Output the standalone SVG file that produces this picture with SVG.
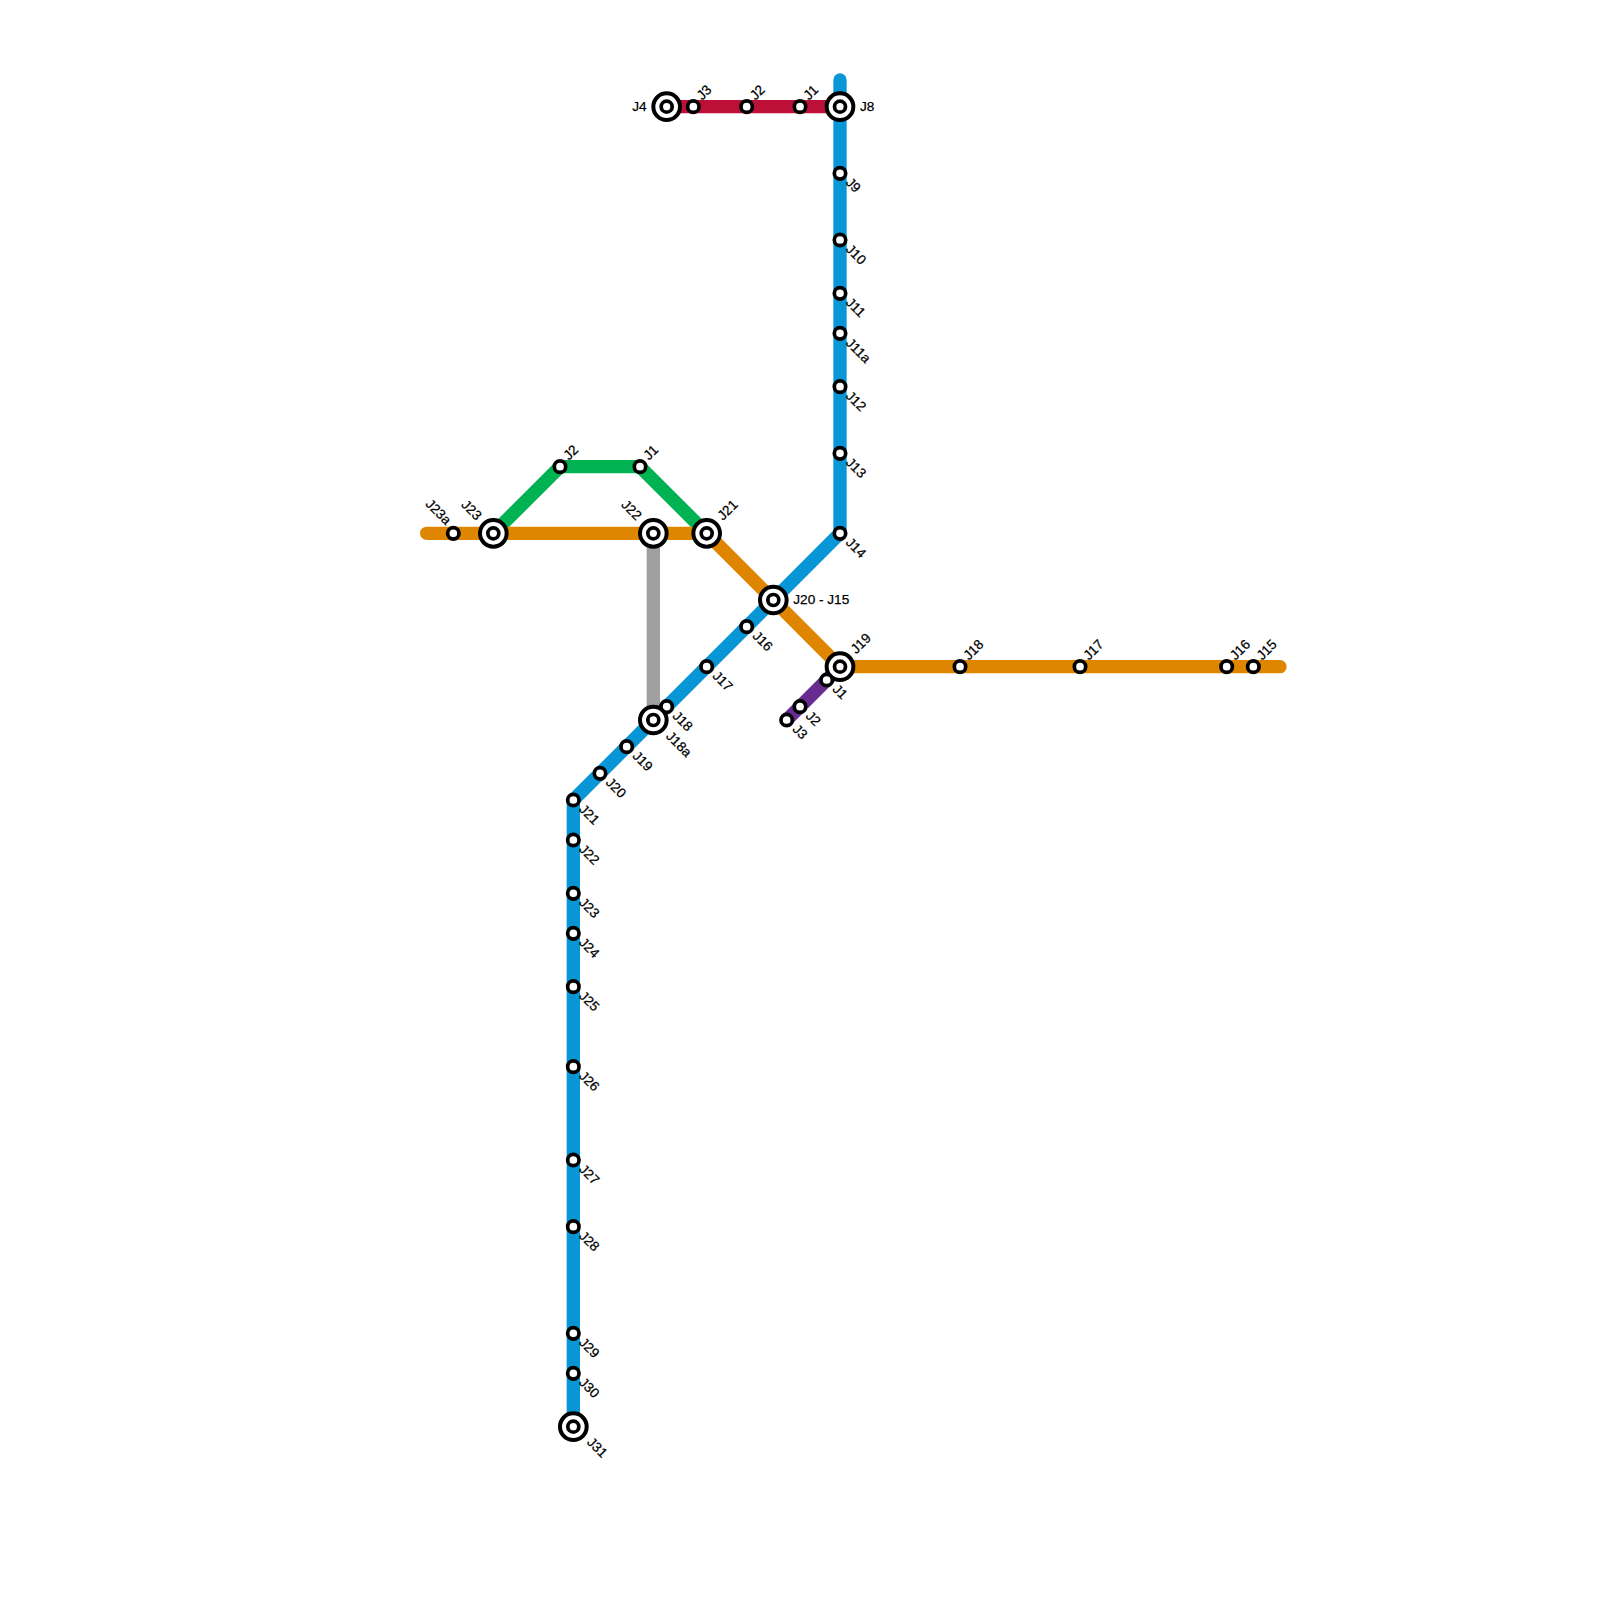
<svg xmlns="http://www.w3.org/2000/svg" width="1600" height="1600" viewBox="0 0 1600 1600">
<style>
.l{fill:none;stroke-width:13.33;stroke-linecap:round;stroke-linejoin:round}
.s{fill:#fff;stroke:#000;stroke-width:4}
.d{fill:#fff;stroke:#000;stroke-width:3.7}
.t{font-family:"Liberation Sans",Arial,sans-serif;font-size:13.6px;fill:#000;stroke:#000;stroke-width:.25}
.e{text-anchor:end}
</style>
<rect width="1600" height="1600" fill="#fff"/>
<defs>
<g id="sm"><circle class="d" r="5.7"/></g>
<g id="lg"><circle class="s" r="13.33"/><circle class="d" r="5.5"/></g>
</defs>
<g id="connectors">
<path class="l" stroke="#a0a0a0" d="M653.33 533.33V720"/>
<path class="l" stroke="#bd1038" d="M666.67 106.67H840"/>
<path class="l" stroke="#00b251" d="M493.33 533.33L560 466.67H640L706.67 533.33"/>
<path class="l" stroke="#662c90" d="M840 666.67L786.67 720"/>
<path class="l" stroke="#0896d7" d="M840 80V533.33L573.33 800V1426.67"/>
<path class="l" stroke="#df8600" d="M426.67 533.33H706.67L840 666.67H1280"/>
</g>
<g id="red-J4"><use href="#lg" x="666.67" y="106.67"/><text class="t e" x="646.5" y="111">J4</text></g>
<g id="red-J3"><use href="#sm" x="693.33" y="106.67"/><text class="t" transform="translate(702.2 100.7) rotate(-45)">J3</text></g>
<g id="red-J2"><use href="#sm" x="746.67" y="106.67"/><text class="t" transform="translate(755.5 100.7) rotate(-45)">J2</text></g>
<g id="red-J1"><use href="#sm" x="800" y="106.67"/><text class="t" transform="translate(808.9 100.7) rotate(-45)">J1</text></g>
<g id="blue-J8"><use href="#lg" x="840" y="106.67"/><text class="t" x="860" y="111">J8</text></g>
<g id="blue-J9"><use href="#sm" x="840" y="173.33"/><text class="t" transform="translate(845 183.3) rotate(45)">J9</text></g>
<g id="blue-J10"><use href="#sm" x="840" y="240"/><text class="t" transform="translate(845 250) rotate(45)">J10</text></g>
<g id="blue-J11"><use href="#sm" x="840" y="293.33"/><text class="t" transform="translate(845 303.3) rotate(45)">J11</text></g>
<g id="blue-J11a"><use href="#sm" x="840" y="333.33"/><text class="t" transform="translate(845 343.8) rotate(45)">J11a</text></g>
<g id="blue-J12"><use href="#sm" x="840" y="386.67"/><text class="t" transform="translate(845 396.7) rotate(45)">J12</text></g>
<g id="blue-J13"><use href="#sm" x="840" y="453.33"/><text class="t" transform="translate(845 463.3) rotate(45)">J13</text></g>
<g id="blue-J14"><use href="#sm" x="840" y="533.33"/><text class="t" transform="translate(845 543.3) rotate(45)">J14</text></g>
<g id="hub-J20-J15"><use href="#lg" x="773.33" y="600"/><text class="t" x="793.3" y="604">J20 - J15</text></g>
<g id="blue-J16"><use href="#sm" x="746.67" y="626.67"/><text class="t" transform="translate(751.7 636.7) rotate(45)">J16</text></g>
<g id="blue-J17"><use href="#sm" x="706.67" y="666.67"/><text class="t" transform="translate(711.7 676.7) rotate(45)">J17</text></g>
<g id="blue-J18"><use href="#sm" x="666.67" y="706.67"/><text class="t" transform="translate(671.7 716.7) rotate(45)">J18</text></g>
<g id="blue-J18a"><use href="#lg" x="653.33" y="720"/><text class="t" transform="translate(665.3 737) rotate(45)">J18a</text></g>
<g id="blue-J19"><use href="#sm" x="626.67" y="746.67"/><text class="t" transform="translate(631.7 756.7) rotate(45)">J19</text></g>
<g id="blue-J20"><use href="#sm" x="600" y="773.33"/><text class="t" transform="translate(605 783.3) rotate(45)">J20</text></g>
<g id="blue-J21"><use href="#sm" x="573.33" y="800"/><text class="t" transform="translate(578.3 810) rotate(45)">J21</text></g>
<g id="blue-J22"><use href="#sm" x="573.33" y="840"/><text class="t" transform="translate(578.3 850) rotate(45)">J22</text></g>
<g id="blue-J23"><use href="#sm" x="573.33" y="893.33"/><text class="t" transform="translate(578.3 903.3) rotate(45)">J23</text></g>
<g id="blue-J24"><use href="#sm" x="573.33" y="933.33"/><text class="t" transform="translate(578.3 943.3) rotate(45)">J24</text></g>
<g id="blue-J25"><use href="#sm" x="573.33" y="986.67"/><text class="t" transform="translate(578.3 996.7) rotate(45)">J25</text></g>
<g id="blue-J26"><use href="#sm" x="573.33" y="1066.67"/><text class="t" transform="translate(578.3 1076.7) rotate(45)">J26</text></g>
<g id="blue-J27"><use href="#sm" x="573.33" y="1160"/><text class="t" transform="translate(578.3 1170) rotate(45)">J27</text></g>
<g id="blue-J28"><use href="#sm" x="573.33" y="1226.67"/><text class="t" transform="translate(578.3 1236.7) rotate(45)">J28</text></g>
<g id="blue-J29"><use href="#sm" x="573.33" y="1333.33"/><text class="t" transform="translate(578.3 1343.3) rotate(45)">J29</text></g>
<g id="blue-J30"><use href="#sm" x="573.33" y="1373.33"/><text class="t" transform="translate(578.3 1383.3) rotate(45)">J30</text></g>
<g id="blue-J31"><use href="#lg" x="573.33" y="1426.67"/><text class="t" transform="translate(586.3 1443) rotate(45)">J31</text></g>
<g id="orange-J23a"><use href="#sm" x="453.33" y="533.33"/><text class="t e" transform="translate(445.5 525.5) rotate(45)">J23a</text></g>
<g id="orange-J23"><use href="#lg" x="493.33" y="533.33"/><text class="t e" transform="translate(476 521) rotate(45)">J23</text></g>
<g id="orange-J22"><use href="#lg" x="653.33" y="533.33"/><text class="t e" transform="translate(636 521) rotate(45)">J22</text></g>
<g id="orange-J21"><use href="#lg" x="706.67" y="533.33"/><text class="t" transform="translate(723 521) rotate(-45)">J21</text></g>
<g id="orange-J19"><use href="#lg" x="840" y="666.67"/><text class="t" transform="translate(856.3 654.5) rotate(-45)">J19</text></g>
<g id="orange-J18"><use href="#sm" x="960" y="666.67"/><text class="t" transform="translate(968.9 660.7) rotate(-45)">J18</text></g>
<g id="orange-J17"><use href="#sm" x="1080" y="666.67"/><text class="t" transform="translate(1088.9 660.7) rotate(-45)">J17</text></g>
<g id="orange-J16"><use href="#sm" x="1226.67" y="666.67"/><text class="t" transform="translate(1235.5 660.7) rotate(-45)">J16</text></g>
<g id="orange-J15"><use href="#sm" x="1253.33" y="666.67"/><text class="t" transform="translate(1262.2 660.7) rotate(-45)">J15</text></g>
<g id="green-J2"><use href="#sm" x="560" y="466.67"/><text class="t" transform="translate(568.9 460.7) rotate(-45)">J2</text></g>
<g id="green-J1"><use href="#sm" x="640" y="466.67"/><text class="t" transform="translate(648.9 460.7) rotate(-45)">J1</text></g>
<g id="purple-J1"><use href="#sm" x="826.67" y="680"/><text class="t" transform="translate(831.7 690) rotate(45)">J1</text></g>
<g id="purple-J2"><use href="#sm" x="800" y="706.67"/><text class="t" transform="translate(805 716.7) rotate(45)">J2</text></g>
<g id="purple-J3"><use href="#sm" x="786.67" y="720"/><text class="t" transform="translate(791.7 730) rotate(45)">J3</text></g>
</svg>
